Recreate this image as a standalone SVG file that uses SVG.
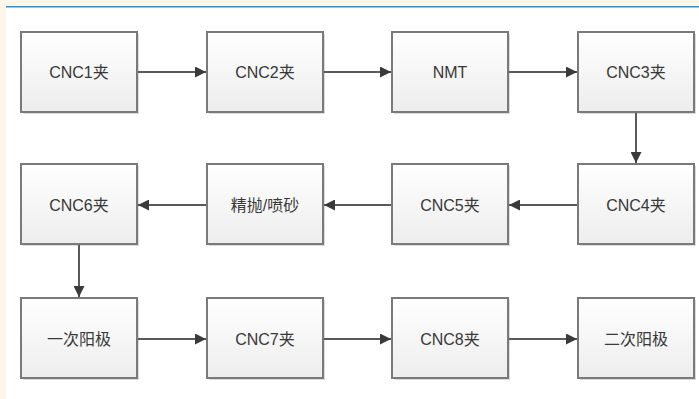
<svg xmlns="http://www.w3.org/2000/svg" width="699" height="399" viewBox="0 0 699 399">
  <defs>
    <linearGradient id="boxFill" x1="0" y1="0" x2="0" y2="1">
      <stop offset="0" stop-color="#ffffff"/>
      <stop offset="1" stop-color="#ededed"/>
    </linearGradient>
    <marker id="arrow" viewBox="0 0 10 10" refX="10" refY="5" markerWidth="5.5" markerHeight="5.5" orient="auto" markerUnits="strokeWidth">
      <path d="M0,0 L10,5 L0,10 z" fill="#3a3a3a"/>
    </marker>
  </defs>
  <style>
    .box { fill: url(#boxFill); stroke: #7a7a7a; stroke-width: 2; }
    .shadow { fill: #dcdcdc; }
    .label { font-family: "Liberation Sans", "Noto Sans CJK SC", sans-serif; font-size: 16px; fill: #383838; text-anchor: middle; dominant-baseline: central; }
    .link { stroke: #5a5a5a; stroke-width: 2; fill: none; marker-end: url(#arrow); }
  </style>

  <!-- page background and frame -->
  <rect width="699" height="399" fill="#ffffff"/>
  <rect x="0" y="0" width="699" height="6" fill="#fdf7ea"/>
  <rect x="0" y="0" width="6" height="399" fill="#fdf7ea"/>
  <rect x="6" y="6" width="693" height="1.5" fill="#2a8fd2"/>

  <!-- row 1 -->
  <g id="n-cnc1"><rect class="shadow" x="23" y="34" width="116" height="80"/><rect class="box" x="21" y="32" width="116" height="80"/><text class="label" x="79" y="72">CNC1夹</text></g>
  <g id="n-cnc2"><rect class="shadow" x="209" y="34" width="116" height="80"/><rect class="box" x="207" y="32" width="116" height="80"/><text class="label" x="265" y="72">CNC2夹</text></g>
  <g id="n-nmt"><rect class="shadow" x="394" y="34" width="116" height="80"/><rect class="box" x="392" y="32" width="116" height="80"/><text class="label" x="450" y="72">NMT</text></g>
  <g id="n-cnc3"><rect class="shadow" x="580" y="34" width="116" height="80"/><rect class="box" x="578" y="32" width="116" height="80"/><text class="label" x="636" y="72">CNC3夹</text></g>

  <!-- row 2 -->
  <g id="n-cnc6"><rect class="shadow" x="23" y="166" width="116" height="80"/><rect class="box" x="21" y="164" width="116" height="80"/><text class="label" x="79" y="205">CNC6夹</text></g>
  <g id="n-polish"><rect class="shadow" x="209" y="166" width="116" height="80"/><rect class="box" x="207" y="164" width="116" height="80"/><text class="label" x="265" y="205">精抛/喷砂</text></g>
  <g id="n-cnc5"><rect class="shadow" x="394" y="166" width="116" height="80"/><rect class="box" x="392" y="164" width="116" height="80"/><text class="label" x="450" y="205">CNC5夹</text></g>
  <g id="n-cnc4"><rect class="shadow" x="580" y="166" width="116" height="80"/><rect class="box" x="578" y="164" width="116" height="80"/><text class="label" x="636" y="205">CNC4夹</text></g>

  <!-- row 3 -->
  <g id="n-anod1"><rect class="shadow" x="23" y="300" width="116" height="80"/><rect class="box" x="21" y="298" width="116" height="80"/><text class="label" x="79" y="339">一次阳极</text></g>
  <g id="n-cnc7"><rect class="shadow" x="209" y="300" width="116" height="80"/><rect class="box" x="207" y="298" width="116" height="80"/><text class="label" x="265" y="339">CNC7夹</text></g>
  <g id="n-cnc8"><rect class="shadow" x="394" y="300" width="116" height="80"/><rect class="box" x="392" y="298" width="116" height="80"/><text class="label" x="450" y="339">CNC8夹</text></g>
  <g id="n-anod2"><rect class="shadow" x="580" y="300" width="116" height="80"/><rect class="box" x="578" y="298" width="116" height="80"/><text class="label" x="636" y="339">二次阳极</text></g>

  <!-- connectors -->
  <g id="connectors">
    <line class="link" x1="138" y1="72" x2="206" y2="72"/>
    <line class="link" x1="324" y1="72" x2="391" y2="72"/>
    <line class="link" x1="509" y1="72" x2="577" y2="72"/>
    <line class="link" x1="636" y1="113" x2="636" y2="163"/>
    <line class="link" x1="577" y1="205" x2="509" y2="205"/>
    <line class="link" x1="391" y1="205" x2="324" y2="205"/>
    <line class="link" x1="206" y1="205" x2="138" y2="205"/>
    <line class="link" x1="79" y1="245" x2="79" y2="297"/>
    <line class="link" x1="138" y1="339" x2="206" y2="339"/>
    <line class="link" x1="324" y1="339" x2="391" y2="339"/>
    <line class="link" x1="509" y1="339" x2="577" y2="339"/>
  </g>
</svg>
